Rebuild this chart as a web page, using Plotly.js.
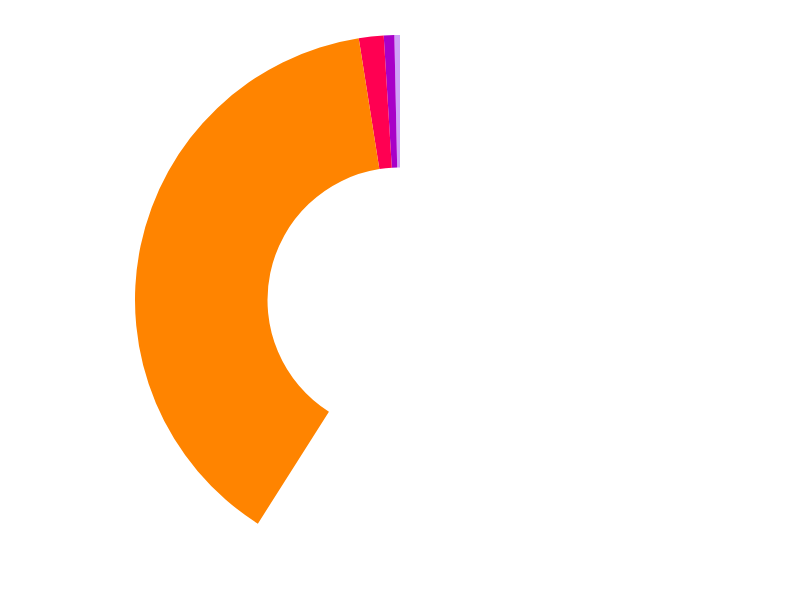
<!DOCTYPE html>
<html>
<head>
<meta charset="utf-8">
<script src="https://cdn.plot.ly/plotly-3.0.1.min.js"></script>
<style>
  html, body { margin: 0; padding: 0; background: #fff; }
  #chart { width: 800px; height: 600px; }
</style>
</head>
<body>
<div id="chart"></div>
<script>
// slices, counter-clockwise from 12 o'clock; the last one is the empty remainder
const labels = ["A", "B", "C", "D", "rest"];
const values = [0.34, 0.64, 1.51, 38.5, 59.01];
const colors = ["#cfa0f8", "#a800c8", "#ff0052", "#ff8400", "rgba(255,255,255,0)"];

// plotly puts the first counter-clockwise slice to the right of the start angle,
// so turn back by its width to have it begin at 12 o'clock
const total = values.reduce((a, b) => a + b, 0);
const startShift = -(values[0] / total) * 360;

Plotly.newPlot(
  "chart",
  [
    {
      type: "pie",
      labels,
      values,
      hole: 0.5,
      sort: false,
      direction: "counterclockwise",
      rotation: startShift,
      textinfo: "none",
      hoverinfo: "label+percent",
      marker: { colors, line: { width: 0 } },
    },
  ],
  {
    width: 800,
    height: 600,
    margin: { l: 0, r: 0, t: 35, b: 35 },
    paper_bgcolor: "#fff",
    showlegend: false,
  },
  { displayModeBar: false }
);
</script>
</body>
</html>
